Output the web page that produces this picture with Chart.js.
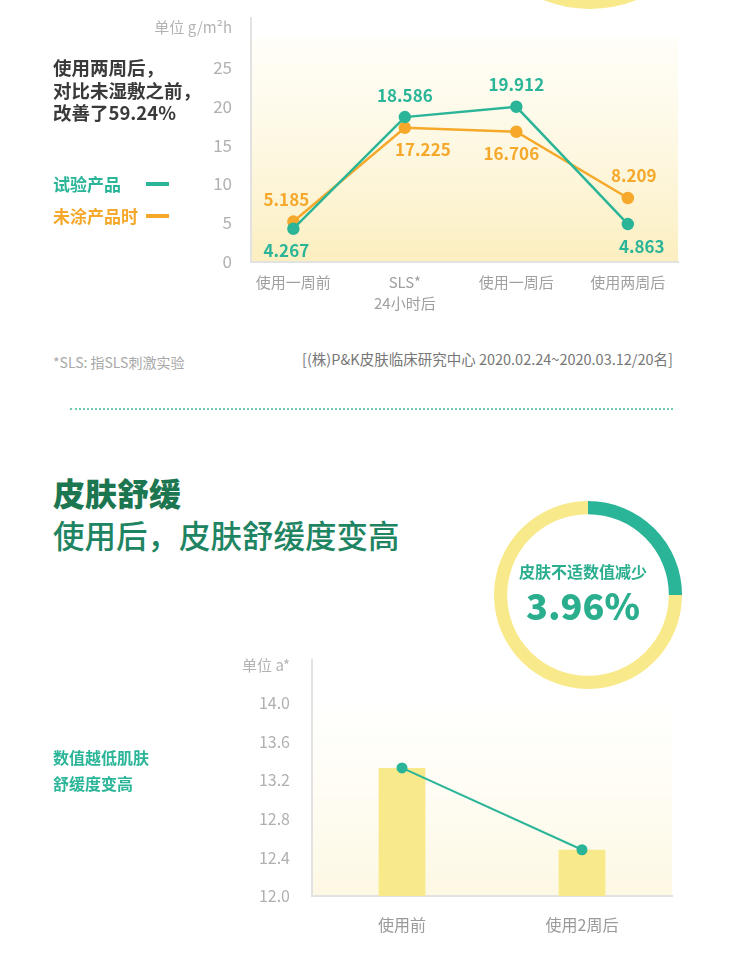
<!DOCTYPE html>
<html>
<head>
<meta charset="utf-8">
<script src="https://cdn.jsdelivr.net/npm/chart.js@4.4.0/dist/chart.umd.min.js"></script>
<style>
body { margin: 0; background: #fff; font-family: "Noto Sans CJK SC", "Noto Sans", sans-serif; }
#page { position: relative; width: 750px; height: 960px; overflow: hidden; }
.t { position: absolute; white-space: nowrap; line-height: 1; }
canvas { position: absolute; }
.dash { position: absolute; width: 23px; height: 4px; }
</style>
</head>
<body>
<div id="page">
  <div style="position:absolute;left:463px;top:-245px;width:254px;height:254px;box-sizing:border-box;border:14px solid #f8e98b;border-radius:50%"></div>

  <canvas id="moisture" width="750" height="330" style="left:0;top:0"></canvas>
  <div class="t" style="right:518px;top:19px;font-size:15px;color:#b3b3b3">单位 g/m²h</div>
  <div class="t" style="left:53px;top:56px;font-size:18.5px;font-weight:700;color:#3a3a3a;line-height:22.5px">使用两周后，<br>对比未湿敷之前，<br>改善了59.24%</div>
  <div class="t" style="left:53px;top:175px;font-size:17px;font-weight:700;color:#2bb598">试验产品</div>
  <div class="dash" style="left:146px;top:182px;background:#2bb598"></div>
  <div class="t" style="left:53px;top:207px;font-size:17px;font-weight:700;color:#f5a82a">未涂产品时</div>
  <div class="dash" style="left:146px;top:214px;background:#f5a82a"></div>

  <div class="t" style="left:53px;top:355px;font-size:14px;color:#a8a8a8">*SLS: 指SLS刺激实验</div>
  <div class="t" style="right:77px;top:352px;font-size:14.5px;color:#777">[(株)P&amp;K皮肤临床研究中心 2020.02.24~2020.03.12/20名]</div>
  <div style="position:absolute;left:70px;top:408px;width:603px;border-top:2px dotted #6ccab3"></div>

  <div class="t" style="left:53px;top:476px;font-size:32px;font-weight:900;color:#1c7650">皮肤舒缓</div>
  <div class="t" style="left:53px;top:519px;font-size:31.5px;font-weight:500;color:#1e8462">使用后，皮肤舒缓度变高</div>

  <canvas id="ring" width="200" height="200" style="left:488px;top:495px"></canvas>
  <div class="t" style="left:583px;top:563px;transform:translateX(-50%);font-size:16px;font-weight:700;color:#2aae8e">皮肤不适数值减少</div>
  <div class="t" style="left:583px;top:586px;transform:translateX(-50%);font-size:36px;font-weight:900;color:#2aae8e">3.96%</div>

  <canvas id="redness" width="750" height="320" style="left:0;top:640px"></canvas>
  <div class="t" style="right:460px;top:657px;font-size:15px;color:#b3b3b3">单位 a*</div>
  <div class="t" style="left:53px;top:749px;font-size:16px;font-weight:700;color:#2bb598">数值越低肌肤</div>
  <div class="t" style="left:53px;top:775px;font-size:16px;font-weight:700;color:#2bb598">舒缓度变高</div>
</div>

<script>
const stages = ['使用一周前', ['SLS*', '24小时后'], '使用一周后', '使用两周后']
const productValues = [4.267, 18.586, 19.912, 4.863]
const bareValues = [5.185, 17.225, 16.706, 8.209]
const moistureTicks = [0, 5, 10, 15, 20, 25]

const rednessStages = ['使用前', '使用2周后']
const rednessValues = [13.33, 12.48]
const rednessTicks = [12.0, 12.4, 12.8, 13.2, 13.6, 14.0]

const ringValues = [25, 75]

const teal = '#2bb598'
const orange = '#f5a82a'
const yellow = '#f8e98b'
const family = '"Noto Sans CJK SC", "Noto Sans", sans-serif'

// soft yellow wash behind the plot area
const areaFill = {
    id: 'areaFill',
    beforeDraw(chart, args, opts) {
        const ctx = chart.ctx
        const a = chart.chartArea
        const top = a.top + opts.gap
        const g = ctx.createLinearGradient(0, top, 0, a.bottom)
        g.addColorStop(0, opts.from)
        g.addColorStop(1, opts.to)
        ctx.save()
        ctx.fillStyle = g
        ctx.fillRect(a.left, top, a.right - a.left, a.bottom - top)
        ctx.restore()
    }
}

// value labels next to each point, above or below
const pointLabels = {
    id: 'pointLabels',
    afterDatasetsDraw(chart) {
        const ctx = chart.ctx
        chart.data.datasets.forEach((ds, i) => {
            const meta = chart.getDatasetMeta(i)
            meta.data.forEach((pt, j) => {
                ctx.save()
                ctx.font = 'bold 17px ' + family
                ctx.fillStyle = ds.borderColor
                ctx.textAlign = 'center'
                ctx.textBaseline = 'middle'
                ctx.fillText(ds.data[j].y.toFixed(3), pt.x + ds.labelShift[j], pt.y + ds.labelSide[j] * 22)
                ctx.restore()
            })
        })
    }
}

new Chart(document.getElementById('moisture'), {
    type: 'line',
    data: {
        datasets: [{
            label: '试验产品',
            data: productValues.map((v, i) => ({x: i, y: v})),
            borderColor: teal,
            backgroundColor: teal,
            borderWidth: 2.5,
            pointRadius: 5,
            labelSide: [1, -1, -1, 1],
            labelShift: [-7, 0, 0, 14],
            order: 0
        }, {
            label: '未涂产品时',
            data: bareValues.map((v, i) => ({x: i, y: v})),
            borderColor: orange,
            backgroundColor: orange,
            borderWidth: 2.5,
            pointRadius: 5,
            labelSide: [-1, 1, 1, -1],
            labelShift: [-7, 18, -5, 6],
            order: 1
        }]
    },
    options: {
        responsive: false,
        animation: false,
        layout: { padding: { top: 18, right: 72, left: 0, bottom: 0 } },
        plugins: {
            legend: { display: false },
            tooltip: { enabled: false },
            areaFill: { gap: 20, from: 'rgba(255,252,240,0.5)', to: '#fbeebf' }
        },
        scales: {
            x: {
                type: 'linear',
                min: -0.38,
                max: 3.45,
                afterBuildTicks: s => { s.ticks = stages.map((_, i) => ({value: i})) },
                afterFit: s => { s.height = 68 },
                grid: { display: false, drawTicks: false },
                border: { color: '#e2e2e2', width: 2 },
                ticks: {
                    padding: 10,
                    color: '#a0a0a0',
                    font: { size: 15, family: family, lineHeight: 1.4 },
                    maxRotation: 0,
                    autoSkip: false,
                    callback: v => stages[v]
                }
            },
            y: {
                min: 0,
                max: 31.3,
                afterBuildTicks: s => { s.ticks = moistureTicks.map(v => ({value: v})) },
                afterFit: s => { s.width = 251; s.paddingTop = 0; s.paddingBottom = 0 },
                grid: { display: false, drawTicks: false },
                border: { color: '#e2e2e2', width: 2 },
                ticks: { padding: 19, color: '#b0b0b0', font: { size: 17, family: family } }
            }
        }
    },
    plugins: [areaFill, pointLabels]
})

new Chart(document.getElementById('ring'), {
    type: 'doughnut',
    data: {
        labels: ['减少', '其余'],
        datasets: [{ data: ringValues, backgroundColor: [teal, yellow], borderWidth: 0 }]
    },
    options: {
        responsive: false,
        animation: false,
        cutout: '86%',
        layout: { padding: 6 },
        plugins: { legend: { display: false }, tooltip: { enabled: false } }
    }
})

new Chart(document.getElementById('redness'), {
    type: 'bar',
    data: {
        labels: rednessStages,
        datasets: [{
            type: 'line',
            data: rednessValues,
            borderColor: teal,
            backgroundColor: teal,
            borderWidth: 2,
            pointRadius: 4.5,
            order: 0
        }, {
            data: rednessValues,
            backgroundColor: yellow,
            barPercentage: 0.26,
            categoryPercentage: 1,
            order: 1
        }]
    },
    options: {
        responsive: false,
        animation: false,
        layout: { padding: { top: 20, right: 78, left: 0, bottom: 0 } },
        plugins: {
            legend: { display: false },
            tooltip: { enabled: false },
            areaFill: { gap: 40, from: 'rgba(255,255,252,0.6)', to: '#fdf8e3' }
        },
        scales: {
            x: {
                afterFit: s => { s.height = 64 },
                grid: { display: false, drawTicks: false },
                border: { color: '#e2e2e2', width: 2 },
                ticks: { padding: 19, color: '#9a9a9a', font: { size: 16, family: family } }
            },
            y: {
                min: 12,
                max: 14.45,
                afterBuildTicks: s => { s.ticks = rednessTicks.map(v => ({value: v})) },
                afterFit: s => { s.width = 312; s.paddingTop = 0; s.paddingBottom = 0 },
                grid: { display: false, drawTicks: false },
                border: { color: '#e2e2e2', width: 2 },
                ticks: { padding: 22, color: '#b0b0b0', font: { size: 16, family: family }, callback: v => v.toFixed(1) }
            }
        }
    },
    plugins: [areaFill]
})
</script>
</body>
</html>
